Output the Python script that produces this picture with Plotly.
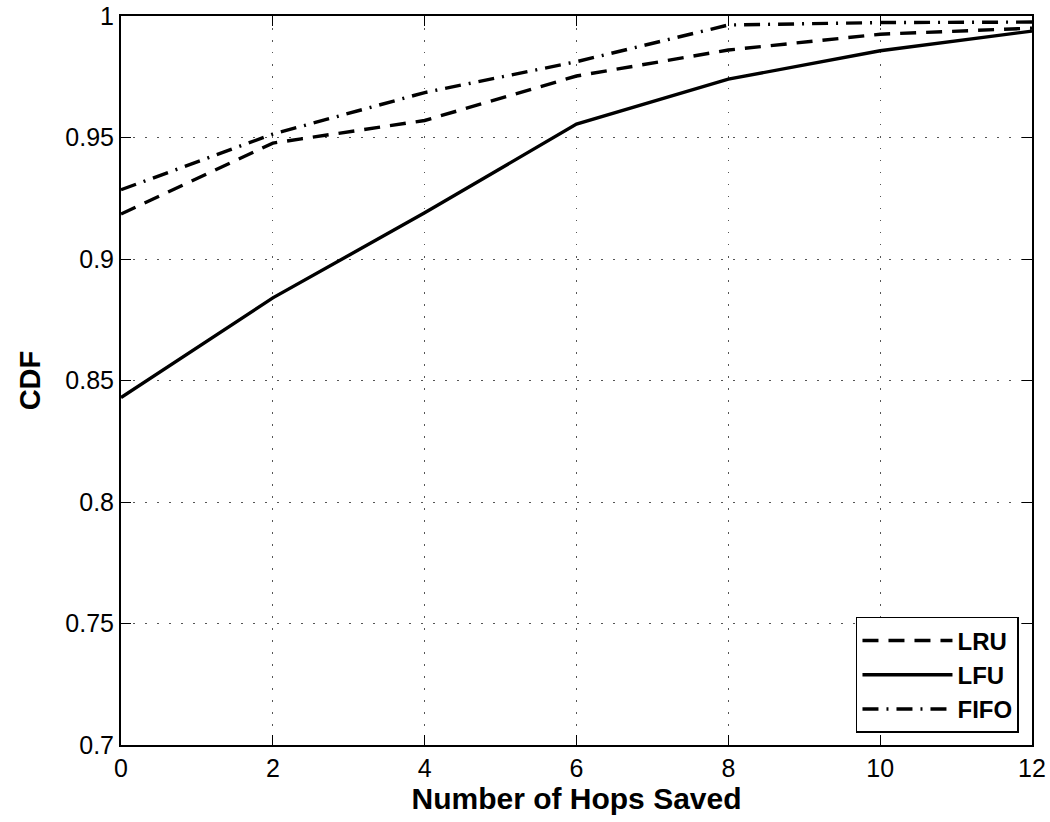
import plotly.graph_objects as go

hops = [0, 2, 4, 6, 8, 10, 12]
lru = [0.9185, 0.9477, 0.957, 0.9753, 0.986, 0.9925, 0.995]
lfu = [0.843, 0.884, 0.919, 0.9555, 0.974, 0.9857, 0.9938]
fifo = [0.9285, 0.9514, 0.9685, 0.9812, 0.9963, 0.9973, 0.9975]

x_ticks = [0, 2, 4, 6, 8, 10, 12]
y_ticks = [0.7, 0.75, 0.8, 0.85, 0.9, 0.95, 1]
y_tick_text = ["0.7", "0.75", "0.8", "0.85", "0.9", "0.95", "1"]

FONT = "Liberation Sans, Arial, Helvetica, sans-serif"

fig = go.Figure()
fig.add_trace(go.Scatter(x=hops, y=lru, mode="lines", name="<b>LRU</b>", legendgroup="a",
                         line=dict(color="black", width=3.4, dash="16px,10px")))
fig.add_trace(go.Scatter(x=hops, y=lfu, mode="lines", name="<b>LFU</b>", legendgroup="b",
                         line=dict(color="black", width=3.4)))
fig.add_trace(go.Scatter(x=hops, y=fifo, mode="lines", name="<b>FIFO</b>", legendgroup="c",
                         line=dict(color="black", width=3.4, dash="16px,8px,2px,8px")))

axis_common = dict(
    showline=True, linecolor="black", linewidth=2, mirror="ticks",
    ticks="inside", ticklen=10, tickwidth=1.2, tickcolor="black",
    showgrid=True, gridcolor="#555555", gridwidth=1.2, griddash="1.5px,10.5px",
    zeroline=False, automargin=False,
    tickfont=dict(family=FONT, size=25, color="black"),
)

fig.update_xaxes(range=[0, 12], tickvals=x_ticks, ticktext=[str(v) for v in x_ticks],
                 title=dict(text="<b>Number of Hops Saved</b>", font=dict(family=FONT, size=30, color="black"),
                            standoff=0),
                 **axis_common)
fig.update_yaxes(range=[0.7, 1], tickvals=y_ticks, ticktext=y_tick_text,
                 title=dict(text="<b>CDF</b>", font=dict(family=FONT, size=29, color="black"),
                            standoff=16),
                 **axis_common)

fig.update_layout(
    width=1050, height=822,
    margin=dict(l=121, r=18, t=16, b=77),
    plot_bgcolor="white", paper_bgcolor="white",
    font=dict(family=FONT, color="black"),
    legend=dict(x=0.9857, y=0.0165, xanchor="right", yanchor="bottom",
                bgcolor="white", bordercolor="black", borderwidth=1.5,
                font=dict(family=FONT, size=24, color="black"),
                itemwidth=90, tracegroupgap=3, traceorder="normal"),
    showlegend=True,
)

fig.write_html("out.html")
